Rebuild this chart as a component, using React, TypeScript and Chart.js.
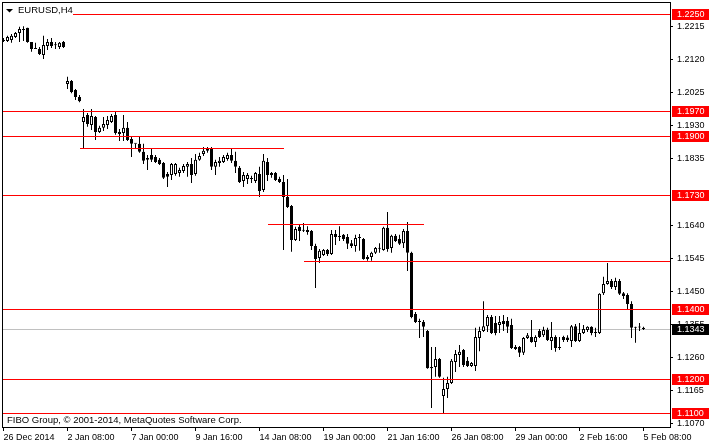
import React, { useEffect, useRef } from "react";
import { Chart, registerables } from "chart.js";

Chart.register(...registerables);

// ---- data (EURUSD, H4) ----
const opens = [
  1.2172, 1.2172, 1.2175, 1.2184, 1.2195, 1.2207, 1.2210, 1.2169, 1.2150, 1.2149,
  1.2132, 1.2158, 1.2169, 1.2161, 1.2155, 1.2169, 1.2048, 1.2057, 1.2031, 1.2011,
  1.1939, 1.1959, 1.1930, 1.1953, 1.1910, 1.1922, 1.1930, 1.1939, 1.1959, 1.1910,
  1.1907, 1.1922, 1.1890, 1.1877, 1.1876, 1.1853, 1.1830, 1.1844, 1.1838, 1.1830,
  1.1821, 1.1789, 1.1786, 1.1789, 1.1792, 1.1798, 1.1810, 1.1818, 1.1789, 1.1830,
  1.1847, 1.1864, 1.1864, 1.1810, 1.1821, 1.1824, 1.1832, 1.1844, 1.1827, 1.1807,
  1.1769, 1.1775, 1.1776, 1.1769, 1.1789, 1.1743, 1.1824, 1.1792, 1.1792, 1.1775,
  1.1766, 1.1723, 1.1697, 1.1599, 1.1637, 1.1628, 1.1628, 1.1625, 1.1582, 1.1547,
  1.1556, 1.1570, 1.1559, 1.1616, 1.1610, 1.1614, 1.1608, 1.1590, 1.1582, 1.1606,
  1.1602, 1.1550, 1.1550, 1.1562, 1.1574, 1.1570, 1.1634, 1.1576, 1.1611, 1.1602,
  1.1590, 1.1625, 1.1562, 1.1386, 1.1366, 1.1363, 1.1337, 1.1233, 1.1233, 1.1256,
  1.1150, 1.1170, 1.1187, 1.1248, 1.1268, 1.1282, 1.1251, 1.1236, 1.1236, 1.1317,
  1.1337, 1.1351, 1.1377, 1.1360, 1.1354, 1.1366, 1.1366, 1.1354, 1.1291, 1.1291,
  1.1274, 1.1317, 1.1320, 1.1305, 1.1337, 1.1325, 1.1340, 1.1308, 1.1320, 1.1289,
  1.1320, 1.1318, 1.1308, 1.1351, 1.1308, 1.1331, 1.1340, 1.1349, 1.1334, 1.1331,
  1.1446, 1.1472, 1.1481, 1.1464, 1.1481, 1.1446, 1.1441, 1.1415, 1.1349, 1.1347,
  1.1346,
];
const highs = [
  1.2181, 1.2187, 1.2192, 1.2198, 1.2213, 1.2215, 1.2210, 1.2169, 1.2167, 1.2155,
  1.2187, 1.2178, 1.2181, 1.2169, 1.2169, 1.2172, 1.2069, 1.2060, 1.2034, 1.2017,
  1.1976, 1.1965, 1.1976, 1.1956, 1.1928, 1.1953, 1.1956, 1.1962, 1.1968, 1.1919,
  1.1959, 1.1939, 1.1896, 1.1877, 1.1896, 1.1876, 1.1844, 1.1864, 1.1844, 1.1835,
  1.1824, 1.1795, 1.1821, 1.1821, 1.1807, 1.1818, 1.1824, 1.1835, 1.1847, 1.1850,
  1.1867, 1.1867, 1.1867, 1.1830, 1.1838, 1.1844, 1.1850, 1.1864, 1.1853, 1.1812,
  1.1795, 1.1792, 1.1784, 1.1795, 1.1810, 1.1847, 1.1835, 1.1795, 1.1795, 1.1781,
  1.1786, 1.1775, 1.1700, 1.1637, 1.1645, 1.1648, 1.1639, 1.1628, 1.1588, 1.1573,
  1.1573, 1.1573, 1.1628, 1.1628, 1.1639, 1.1616, 1.1616, 1.1599, 1.1614, 1.1616,
  1.1605, 1.1556, 1.1565, 1.1579, 1.1590, 1.1637, 1.1680, 1.1614, 1.1616, 1.1614,
  1.1631, 1.1651, 1.1565, 1.1392, 1.1372, 1.1369, 1.1340, 1.1291, 1.1291, 1.1259,
  1.1202, 1.1205, 1.1256, 1.1282, 1.1297, 1.1285, 1.1262, 1.1248, 1.1346, 1.1349,
  1.1423, 1.1383, 1.1383, 1.1380, 1.1380, 1.1383, 1.1377, 1.1372, 1.1297, 1.1294,
  1.1320, 1.1331, 1.1369, 1.1325, 1.1343, 1.1349, 1.1346, 1.1363, 1.1325, 1.1320,
  1.1323, 1.1325, 1.1354, 1.1357, 1.1360, 1.1354, 1.1351, 1.1351, 1.1346, 1.1446,
  1.1493, 1.1533, 1.1487, 1.1490, 1.1487, 1.1449, 1.1446, 1.1423, 1.1349, 1.1360,
  1.1349,
];
const lows = [
  1.2169, 1.2169, 1.2167, 1.2181, 1.2169, 1.2172, 1.2167, 1.2141, 1.2149, 1.2132,
  1.2120, 1.2146, 1.2152, 1.2149, 1.2149, 1.2152, 1.2034, 1.2022, 1.2002, 1.1996,
  1.1861, 1.1925, 1.1916, 1.1887, 1.1907, 1.1913, 1.1919, 1.1936, 1.1902, 1.1884,
  1.1884, 1.1884, 1.1838, 1.1864, 1.1850, 1.1818, 1.1801, 1.1824, 1.1821, 1.1815,
  1.1775, 1.1752, 1.1772, 1.1784, 1.1781, 1.1792, 1.1781, 1.1763, 1.1784, 1.1827,
  1.1841, 1.1850, 1.1801, 1.1786, 1.1810, 1.1821, 1.1827, 1.1821, 1.1792, 1.1763,
  1.1752, 1.1760, 1.1763, 1.1763, 1.1723, 1.1737, 1.1769, 1.1778, 1.1769, 1.1763,
  1.1570, 1.1691, 1.1565, 1.1596, 1.1596, 1.1622, 1.1614, 1.1570, 1.1461, 1.1533,
  1.1553, 1.1553, 1.1556, 1.1585, 1.1596, 1.1596, 1.1573, 1.1576, 1.1565, 1.1568,
  1.1542, 1.1539, 1.1539, 1.1559, 1.1562, 1.1568, 1.1565, 1.1562, 1.1593, 1.1585,
  1.1576, 1.1510, 1.1374, 1.1360, 1.1317, 1.1320, 1.1228, 1.1115, 1.1205, 1.1202,
  1.1098, 1.1144, 1.1184, 1.1219, 1.1233, 1.1233, 1.1233, 1.1233, 1.1222, 1.1279,
  1.1334, 1.1334, 1.1328, 1.1325, 1.1331, 1.1337, 1.1331, 1.1285, 1.1282, 1.1262,
  1.1268, 1.1314, 1.1303, 1.1291, 1.1317, 1.1320, 1.1308, 1.1282, 1.1277, 1.1282,
  1.1305, 1.1305, 1.1291, 1.1305, 1.1305, 1.1328, 1.1334, 1.1325, 1.1320, 1.1328,
  1.1441, 1.1470, 1.1458, 1.1455, 1.1441, 1.1429, 1.1400, 1.1317, 1.1303, 1.1337,
  1.1340,
];
const closes = [
  1.2175, 1.2184, 1.2187, 1.2195, 1.2207, 1.2204, 1.2169, 1.2149, 1.2149, 1.2135,
  1.2161, 1.2169, 1.2158, 1.2160, 1.2167, 1.2155, 1.2057, 1.2025, 1.2011, 1.1999,
  1.1953, 1.1933, 1.1956, 1.1910, 1.1922, 1.1933, 1.1945, 1.1956, 1.1907, 1.1904,
  1.1922, 1.1887, 1.1876, 1.1876, 1.1853, 1.1827, 1.1835, 1.1830, 1.1824, 1.1818,
  1.1778, 1.1781, 1.1818, 1.1818, 1.1801, 1.1812, 1.1818, 1.1786, 1.1830, 1.1841,
  1.1856, 1.1856, 1.1810, 1.1824, 1.1827, 1.1838, 1.1844, 1.1827, 1.1810, 1.1766,
  1.1786, 1.1786, 1.1775, 1.1792, 1.1740, 1.1827, 1.1786, 1.1786, 1.1772, 1.1766,
  1.1723, 1.1694, 1.1599, 1.1631, 1.1625, 1.1626, 1.1622, 1.1582, 1.1544, 1.1568,
  1.1570, 1.1559, 1.1616, 1.1608, 1.1608, 1.1602, 1.1588, 1.1582, 1.1605, 1.1605,
  1.1544, 1.1544, 1.1562, 1.1576, 1.1576, 1.1634, 1.1573, 1.1611, 1.1596, 1.1588,
  1.1625, 1.1562, 1.1377, 1.1363, 1.1363, 1.1349, 1.1230, 1.1230, 1.1256, 1.1205,
  1.1170, 1.1187, 1.1251, 1.1271, 1.1277, 1.1239, 1.1236, 1.1245, 1.1320, 1.1337,
  1.1351, 1.1377, 1.1331, 1.1331, 1.1363, 1.1357, 1.1349, 1.1288, 1.1285, 1.1274,
  1.1317, 1.1325, 1.1305, 1.1320, 1.1320, 1.1340, 1.1311, 1.1320, 1.1288, 1.1288,
  1.1311, 1.1311, 1.1351, 1.1308, 1.1331, 1.1343, 1.1349, 1.1331, 1.1331, 1.1444,
  1.1472, 1.1481, 1.1464, 1.1481, 1.1444, 1.1438, 1.1415, 1.1346, 1.1346, 1.1349,
  1.1343,
];

const xTickLabels = [
  "26 Dec 2014", "2 Jan 08:00", "7 Jan 00:00", "9 Jan 16:00", "14 Jan 08:00",
  "19 Jan 00:00", "21 Jan 16:00", "26 Jan 08:00", "29 Jan 00:00", "2 Feb 16:00", "5 Feb 08:00",
];
const barsPerXTick = 16;
const yTickValues = [1.2215, 1.2120, 1.2025, 1.1930, 1.1835, 1.1640, 1.1545, 1.1450, 1.1355, 1.1260, 1.1165, 1.1070];
const levelLines = [1.2250, 1.1970, 1.1900, 1.1730, 1.1400, 1.1200, 1.1100];
const bidPrice = 1.1343;
const trendLevels = [1.1864, 1.1645, 1.1539];
const trendStartBars = [19, 66, 75];
const trendEndBars: (number | null)[] = [70, 105, null];
const symbolTitle = "EURUSD,H4";
const copyrightText = "FIBO Group, \u00A9 2001-2014, MetaQuotes Software Corp.";

const FONT = "'Liberation Sans', Arial, sans-serif";

const overlay = {
  id: "mtOverlay",
  beforeDatasetsDraw(chart: any) {
    const { ctx, chartArea: ca, scales } = chart;
    const y = scales.y;
    ctx.save();
    const yb = Math.round(y.getPixelForValue(bidPrice)) + 0.5;
    ctx.strokeStyle = "#c0c0c0";
    ctx.lineWidth = 1;
    ctx.beginPath();
    ctx.moveTo(ca.left, yb);
    ctx.lineTo(ca.right, yb);
    ctx.stroke();
    ctx.restore();
  },
  afterDatasetsDraw(chart: any) {
    const { ctx, chartArea: ca, scales } = chart;
    const { x, y } = scales;
    ctx.save();
    ctx.strokeStyle = "#ff0000";
    ctx.lineWidth = 1;
    levelLines.forEach((v) => {
      const py = Math.round(y.getPixelForValue(v)) + 0.5;
      ctx.beginPath();
      ctx.moveTo(ca.left, py);
      ctx.lineTo(ca.right, py);
      ctx.stroke();
    });
    trendLevels.forEach((v, i) => {
      const py = Math.round(y.getPixelForValue(v)) + 0.5;
      const x0 = Math.round(x.getPixelForValue(trendStartBars[i]));
      const e = trendEndBars[i];
      const x1 = e == null ? ca.right : Math.round(x.getPixelForValue(e));
      ctx.beginPath();
      ctx.moveTo(x0, py);
      ctx.lineTo(x1, py);
      ctx.stroke();
    });
    // title box
    ctx.fillStyle = "#ffffff";
    ctx.fillRect(3, 3, 70, 12);
    ctx.fillStyle = "#000";
    ctx.beginPath();
    ctx.moveTo(6, 9);
    ctx.lineTo(13, 9);
    ctx.lineTo(9.5, 12.5);
    ctx.closePath();
    ctx.fill();
    ctx.font = `9.5px ${FONT}`;
    ctx.textBaseline = "middle";
    ctx.textAlign = "left";
    ctx.fillText(symbolTitle, 18, 10);
    ctx.fillText(copyrightText, 7, 420);
    ctx.restore();
  },
  afterDraw(chart: any) {
    const { ctx, chartArea: ca, scales } = chart;
    const y = scales.y;
    ctx.save();
    ctx.strokeStyle = "#000";
    ctx.lineWidth = 1;
    ctx.strokeRect(ca.left + 0.5, ca.top + 0.5, ca.right - ca.left, ca.bottom - ca.top);
    ctx.font = `9px ${FONT}`;
    ctx.textBaseline = "middle";
    ctx.textAlign = "left";
    const box = (v: number, bg: string) => {
      const py = Math.round(y.getPixelForValue(v));
      ctx.fillStyle = bg;
      ctx.fillRect(ca.right + 2, py - 5, 37, 11);
      ctx.fillStyle = "#fff";
      ctx.fillText(v.toFixed(4), ca.right + 7, py + 0.5);
    };
    levelLines.forEach((v) => box(v, "#ff0000"));
    box(bidPrice, "#000000");
    ctx.restore();
  },
};

export default function App() {
  const ref = useRef<HTMLCanvasElement | null>(null);
  useEffect(() => {
    if (!ref.current) return;
    const bodies = opens.map((o, i) => ({ x: i, y: [o, closes[i]] }));
    const wicks = opens.map((_, i) => ({ x: i, y: [lows[i], highs[i]] }));
    const chart = new Chart(ref.current, {
      type: "bar",
      data: {
        datasets: [
          {
            label: "body",
            data: bodies as any,
            backgroundColor: opens.map((o, i) => (closes[i] >= o ? "#ffffff" : "#000000")),
            borderColor: "#000000",
            borderWidth: 1,
            borderSkipped: false,
            barThickness: 3,
            minBarLength: 1,
            grouped: false,
            inflateAmount: 0,
            order: 1,
          } as any,
          {
            label: "wick",
            data: wicks as any,
            backgroundColor: "#000000",
            borderWidth: 0,
            barThickness: 1,
            grouped: false,
            inflateAmount: 0,
            order: 2,
          } as any,
        ],
      },
      options: {
        animation: false,
        responsive: false,
        devicePixelRatio: 1,
        layout: { padding: { left: 2, top: 2, right: 0, bottom: 0 } },
        plugins: { legend: { display: false }, tooltip: { enabled: false } },
        scales: {
          x: {
            type: "linear",
            offset: false,
            min: -0.375,
            max: 166.625,
            grid: { offset: false, drawOnChartArea: false, tickLength: 4, color: "#000" },
            border: { display: true, color: "#000" },
            ticks: {
              align: "start",
              autoSkip: false,
              maxRotation: 0,
              minRotation: 0,
              padding: 1,
              color: "#000",
              font: { family: FONT, size: 9 },
              callback: (v: any) => xTickLabels[Math.round(Number(v) / barsPerXTick)] ?? "",
            },
            afterBuildTicks: (s: any) => {
              s.ticks = xTickLabels.map((_, i) => ({ value: i * barsPerXTick }));
            },
            afterFit: (s: any) => {
              s.height = 18;
              s.paddingLeft = 0;
              s.paddingRight = 0;
            },
          } as any,
          y: {
            type: "linear",
            position: "right",
            min: 1.10605,
            max: 1.22845,
            grid: { drawOnChartArea: false, tickLength: 3, color: "#000" },
            border: { display: true, color: "#000" },
            ticks: {
              padding: 4,
              color: "#000",
              font: { family: FONT, size: 9 },
              callback: (v: any) => Number(v).toFixed(4),
            },
            afterBuildTicks: (s: any) => {
              s.ticks = yTickValues.map((v) => ({ value: v }));
            },
            afterFit: (s: any) => {
              s.width = 40;
              s.paddingTop = 0;
              s.paddingBottom = 0;
            },
          } as any,
        },
      },
      plugins: [overlay],
    });
    return () => chart.destroy();
  }, []);
  return (
    <div style={{ position: "absolute", left: 0, top: 0, width: 710, height: 445, background: "#fff" }}>
      <canvas ref={ref} width={710} height={445} style={{ display: "block" }} />
    </div>
  );
}
